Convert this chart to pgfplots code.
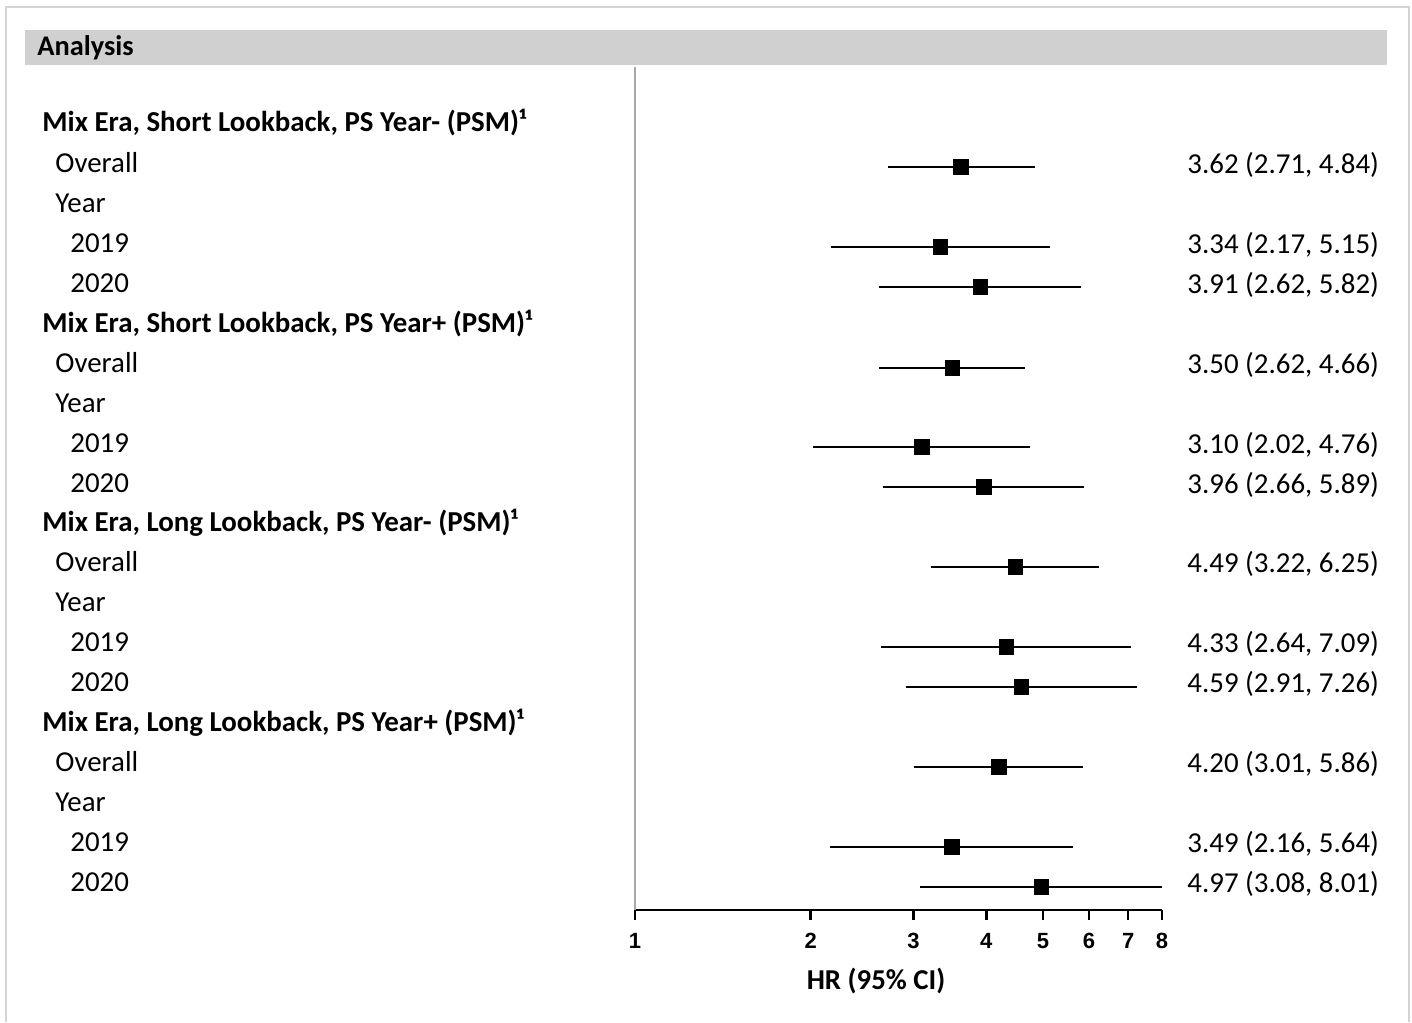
\documentclass[border=0pt]{standalone}
\usepackage{pgfplots}
\pgfplotsset{compat=1.18}
\usepackage{fontspec}
\setmainfont{Carlito}
\newfontfamily\arialfont{Liberation Sans}
\definecolor{barg}{RGB}{208,208,208}
\definecolor{bordg}{RGB}{212,212,212}
\definecolor{axg}{RGB}{168,168,168}
\begin{document}
\begin{tikzpicture}
\begin{scope}[x=0.5pt,y=-0.5pt]
\useasboundingbox (0,0) rectangle (1412,1022);
\draw[bordg, line width=1pt] (6,1022) -- (6,7) -- (1409,7) -- (1409,1022);
\fill[barg] (25,30) rectangle (1387,65);
\node[anchor=base west, inner sep=0pt, font=\fontsize{14.2}{16}\selectfont\bfseries] at (37,56) {Analysis};
\end{scope}
\begin{axis}[
  at={(317.5pt,-455pt)}, anchor=south west,
  scale only axis, width=263.5pt, height=421.5pt,
  xmode=log, xmin=1, xmax=8,
  ymin=67, ymax=910, y dir=reverse,
  axis x line*=bottom, axis y line*=left,
  x axis line style={black, line width=1.2pt, -},
  y axis line style={axg, line width=1pt, -},
  xtick={1,2,3,4,5,6,7,8}, xticklabels={1,2,3,4,5,6,7,8},
  minor xtick={}, ytick=\empty,
  tick align=outside, major tick length=5pt,
  x tick style={black, line width=1.2pt},
  xticklabel style={font=\arialfont\bfseries\fontsize{11}{13}\selectfont, yshift=-3pt},
  /pgf/number format/assume math mode=true,
  unbounded coords=jump, clip=false,
]
\addplot[black, line width=1.45pt] coordinates {
(2.71,167) (4.84,167) (nan,nan)
(2.17,247) (5.15,247) (nan,nan)
(2.62,287) (5.82,287) (nan,nan)
(2.62,368) (4.66,368) (nan,nan)
(2.02,447) (4.76,447) (nan,nan)
(2.66,487) (5.89,487) (nan,nan)
(3.22,567) (6.25,567) (nan,nan)
(2.64,647) (7.09,647) (nan,nan)
(2.91,687) (7.26,687) (nan,nan)
(3.01,767) (5.86,767) (nan,nan)
(2.16,847) (5.64,847) (nan,nan)
(3.08,887) (8.01,887)
};
\addplot[only marks, mark=square*, mark size=3.6pt, black] coordinates {
(3.62,167) (3.34,247) (3.91,287) (3.50,368) (3.10,447) (3.96,487)
(4.49,567) (4.33,647) (4.59,687) (4.20,767) (3.49,847) (4.97,887)
};
\end{axis}
\begin{scope}[x=0.5pt,y=-0.5pt, every node/.style={inner sep=0pt, font=\fontsize{14.45}{16}\selectfont}]
\def\hdr{\fontsize{14.45}{16}\selectfont\bfseries}
\node[anchor=base west, font=\hdr] at (42,132) {Mix Era, Short Lookback, PS Year- (PSM)¹};
\node[anchor=base west] at (55,172) {Overall};
\node[anchor=base west] at (55,212) {Year};
\node[anchor=base west] at (70,252) {2019};
\node[anchor=base west] at (70,292) {2020};
\node[anchor=base west, font=\hdr] at (42,332) {Mix Era, Short Lookback, PS Year+ (PSM)¹};
\node[anchor=base west] at (55,372) {Overall};
\node[anchor=base west] at (55,412) {Year};
\node[anchor=base west] at (70,452) {2019};
\node[anchor=base west] at (70,492) {2020};
\node[anchor=base west, font=\hdr] at (42,531) {Mix Era, Long Lookback, PS Year- (PSM)¹};
\node[anchor=base west] at (55,571) {Overall};
\node[anchor=base west] at (55,611) {Year};
\node[anchor=base west] at (70,651) {2019};
\node[anchor=base west] at (70,691) {2020};
\node[anchor=base west, font=\hdr] at (42,731) {Mix Era, Long Lookback, PS Year+ (PSM)¹};
\node[anchor=base west] at (55,771) {Overall};
\node[anchor=base west] at (55,811) {Year};
\node[anchor=base west] at (70,851) {2019};
\node[anchor=base west] at (70,891) {2020};
\node[anchor=base west] at (1187,173) {3.62 (2.71, 4.84)};
\node[anchor=base west] at (1187,253) {3.34 (2.17, 5.15)};
\node[anchor=base west] at (1187,293) {3.91 (2.62, 5.82)};
\node[anchor=base west] at (1187,373) {3.50 (2.62, 4.66)};
\node[anchor=base west] at (1187,453) {3.10 (2.02, 4.76)};
\node[anchor=base west] at (1187,493) {3.96 (2.66, 5.89)};
\node[anchor=base west] at (1187,572) {4.49 (3.22, 6.25)};
\node[anchor=base west] at (1187,652) {4.33 (2.64, 7.09)};
\node[anchor=base west] at (1187,692) {4.59 (2.91, 7.26)};
\node[anchor=base west] at (1187,772) {4.20 (3.01, 5.86)};
\node[anchor=base west] at (1187,852) {3.49 (2.16, 5.64)};
\node[anchor=base west] at (1187,892) {4.97 (3.08, 8.01)};
\node[anchor=base, font=\fontsize{14.4}{16}\selectfont\bfseries] at (876,989) {HR (95\% CI)};
\end{scope}
\end{tikzpicture}
\end{document}
